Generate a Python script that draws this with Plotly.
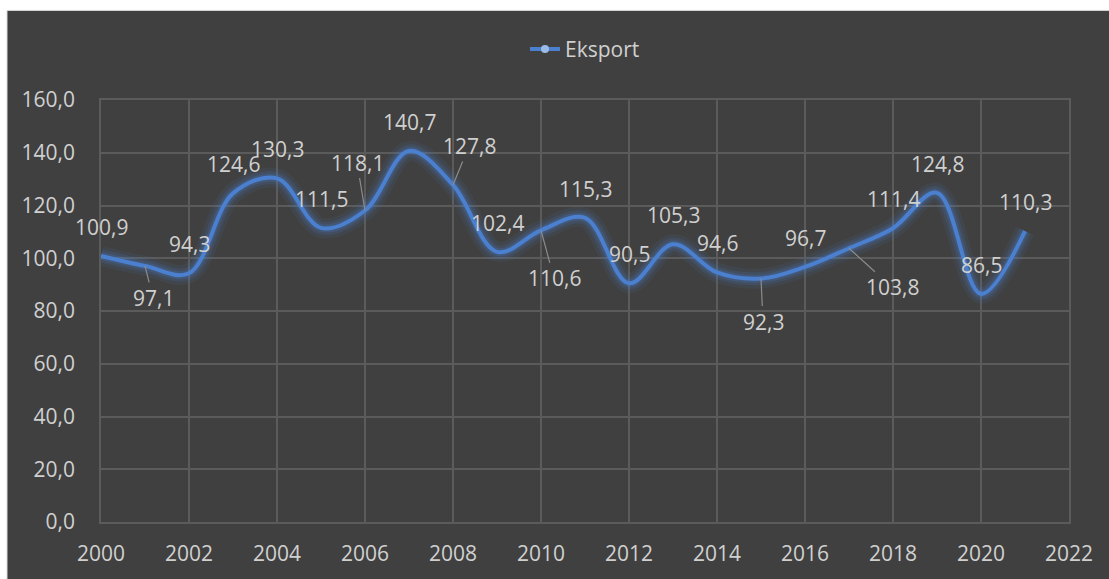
import plotly.graph_objects as go

years = [2000, 2001, 2002, 2003, 2004, 2005, 2006, 2007, 2008, 2009, 2010,
         2011, 2012, 2013, 2014, 2015, 2016, 2017, 2018, 2019, 2020, 2021]
eksport = [100.9, 97.1, 94.3, 124.6, 130.3, 111.5, 118.1, 140.7, 127.8, 102.4, 110.6,
           115.3, 90.5, 105.3, 94.6, 92.3, 96.7, 103.8, 111.4, 124.8, 86.5, 110.3]
series_name = "Eksport"

# label offsets in pixels (dx, dy screen; dy positive = down) for labels with leader lines
label_offsets = {
    2001: (8, 32),
    2006: (-8, -48),
    2008: (16, -39),
    2010: (13, 48),
    2015: (2, 43),
    2017: (43, 39),
}

BG = "#404040"
GRID = "#5b5b5b"
TXT = "#d0d0d0"
BLUE = "#4a80cf"
FONT = "Open Sans"
FS = 21

fig = go.Figure()

# glow layers
for w, a in [(20, 0.09), (13, 0.15), (8, 0.22)]:
    fig.add_trace(go.Scatter(x=years, y=eksport, mode="lines",
                             line=dict(color=f"rgba(74,128,207,{a})", width=w,
                                       shape="spline", smoothing=1.0),
                             showlegend=False, hoverinfo="skip"))
fig.add_trace(go.Scatter(x=years, y=eksport, mode="lines", name=series_name,
                         line=dict(color=BLUE, width=4, shape="spline", smoothing=1.0),
                         showlegend=False))
# legend entry
fig.add_trace(go.Scatter(x=[None], y=[None], mode="lines+markers", name=series_name,
                         line=dict(color=BLUE, width=4),
                         marker=dict(color="#9bbbe6", size=8)))

annotations = []
for yr, v in zip(years, eksport):
    txt = f"{v:.1f}".replace(".", ",")
    if yr in label_offsets:
        dx, dy = label_offsets[yr]
        annotations.append(dict(x=yr, y=v, xref="x", yref="y", text=txt,
                                showarrow=True, ax=dx, ay=dy, arrowhead=0,
                                arrowwidth=1.2, arrowcolor="#8c8c8c", standoff=0,
                                startstandoff=0,
                                font=dict(family=FONT, size=FS, color=TXT)))
    else:
        annotations.append(dict(x=yr, y=v, xref="x", yref="y", text=txt,
                                showarrow=False, yshift=29,
                                xanchor="center", yanchor="middle",
                                font=dict(family=FONT, size=FS, color=TXT)))

# background shapes (white outer margin, dark chart area)
L, T, W, H = 101, 100, 968, 424
def px2x(p):
    return (p - L) / W
def py2y(p):
    return (T + H - p) / H

shapes = [dict(type="rect", xref="paper", yref="paper",
               x0=px2x(7), x1=px2x(1112), y0=py2y(10), y1=py2y(582),
               fillcolor=BG, line=dict(color="#d9d9d9", width=1), layer="below")]

fig.update_layout(
    width=1109, height=579,
    margin=dict(l=L, r=1109 - L - W, t=T, b=579 - T - H),
    paper_bgcolor="white", plot_bgcolor=BG,
    separators=",.",
    font=dict(family=FONT, size=FS, color=TXT),
    showlegend=True,
    legend=dict(orientation="h", x=0.5, xanchor="center", y=py2y(49), yanchor="middle",
                font=dict(family=FONT, size=FS, color=TXT), bgcolor="rgba(0,0,0,0)"),
    annotations=annotations,
    shapes=shapes,
    xaxis=dict(range=[2000, 2022], dtick=2, tick0=2000, tickformat="d",
               showgrid=True, gridcolor=GRID, gridwidth=1.5,
               showline=True, linecolor=GRID, linewidth=1.5, mirror=True,
               zeroline=False, ticks="", ticklabelstandoff=12,
               tickfont=dict(family=FONT, size=FS, color=TXT)),
    yaxis=dict(range=[0, 160], dtick=20, tickformat=".1f",
               showgrid=True, gridcolor=GRID, gridwidth=1.5,
               showline=True, linecolor=GRID, linewidth=1.5, mirror=True,
               zeroline=False, ticks="", ticklabelstandoff=20,
               tickfont=dict(family=FONT, size=FS, color=TXT)),
)

fig.write_html("out.html", post_script="document.body.style.margin='0';",
               config={"displayModeBar": False})
